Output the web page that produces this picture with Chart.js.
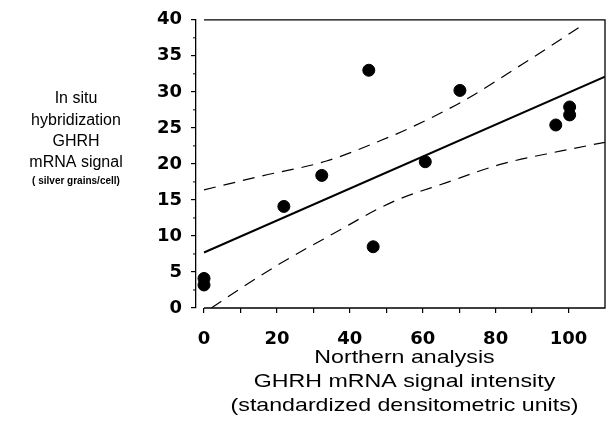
<!DOCTYPE html>
<html lang="en">
<head>
    <meta charset="UTF-8">
    <title>GHRH mRNA: in situ vs Northern</title>
    <script src="https://cdn.jsdelivr.net/npm/chart.js"></script>
    <style>
        html, body { margin: 0; padding: 0; background: #ffffff; }
        #wrap { width: 612px; height: 427px; }
    </style>
</head>
<body>
    <div id="wrap"><canvas id="corrChart" width="612" height="427"></canvas></div>

    <script>
        // Northern (x) vs in situ (y), one point per animal
        const northern = [0, 0, 21.9, 32.3, 45.2, 46.4, 60.7, 70.2, 96.5, 100.3, 100.3];
        const inSitu   = [4.1, 3.2, 14.1, 18.4, 33.0, 8.5, 20.3, 30.2, 25.4, 27.9, 26.8];

        // regression line
        const fitX = [0, 110];
        const fitY = [7.7, 32.1];

        // confidence bands
        const upperX = [0, 15.6, 33.6, 51.6, 55.7, 71, 87.2, 104];
        const upperY = [16.4, 18.3, 20.4, 23.9, 24.8, 28.7, 33.8, 39.3];
        const lowerX = [2, 10, 21, 35.4, 51.6, 66.5, 81.8, 98, 110];
        const lowerY = [0, 2.7, 6.2, 10.3, 14.7, 17.4, 20.0, 21.8, 23.0];

        const xTicks = [0, 10, 20, 30, 40, 50, 60, 70, 80, 90, 100];
        const yTitle = ['In situ', 'hybridization', 'GHRH', 'mRNA signal'];
        const yNote = '( silver grains/cell)';
        const xTitle = ['Northern analysis', 'GHRH mRNA signal intensity', '(standardized densitometric units)'];

        const FONT = '"Liberation Sans", Arial, Helvetica, sans-serif';
        const TICKFONT = '"DejaVu Sans", "Liberation Sans", Arial, sans-serif';

        function pairs(xs, ys) {
            return xs.map((x, i) => ({x: x, y: ys[i]}));
        }

        // frame, minor ticks and the two axis titles
        const framePlugin = {
            id: 'frame',
            afterDraw(chart) {
                const ctx = chart.ctx;
                const xs = chart.scales.x, ys = chart.scales.y;
                const a = chart.chartArea;
                const x0 = xs.getPixelForValue(0);
                ctx.save();
                ctx.strokeStyle = '#000';
                ctx.lineWidth = 1.3;
                ctx.beginPath();
                ctx.moveTo(x0, a.top);
                ctx.lineTo(a.right, a.top);
                ctx.lineTo(a.right, a.bottom);
                ctx.lineTo(x0, a.bottom);
                ctx.stroke();
                // minor ticks on y axis
                ctx.lineWidth = 1;
                ctx.beginPath();
                for (let v = 2.5; v < 40; v += 5) {
                    const py = ys.getPixelForValue(v);
                    ctx.moveTo(a.left - 3, py);
                    ctx.lineTo(a.left, py);
                }
                ctx.stroke();

                ctx.fillStyle = '#000';
                ctx.textAlign = 'center';
                ctx.textBaseline = 'middle';
                ctx.font = '16px ' + FONT;
                const rowsY = [98, 120, 141, 162];
                yTitle.forEach((t, i) => {
                    ctx.save();
                    ctx.translate(76, rowsY[i]);
                    ctx.scale(1, 1.08);
                    ctx.fillText(t, 0, 0);
                    ctx.restore();
                });
                ctx.font = 'bold 10px ' + FONT;
                ctx.fillText(yNote, 76, 181);

                // x title, a little wider than plain Arial
                ctx.font = '19px ' + FONT;
                const cx = (x0 + a.right) / 2;
                const rowsX = [358, 382, 406];
                xTitle.forEach((t, i) => {
                    ctx.save();
                    ctx.translate(cx, rowsX[i]);
                    ctx.scale(1.22, 1);
                    ctx.fillText(t, 0, 0);
                    ctx.restore();
                });
                ctx.restore();
            }
        };

        const ctx = document.getElementById('corrChart').getContext('2d');
        new Chart(ctx, {
            type: 'scatter',
            data: {
                datasets: [
                    {
                        label: 'animals',
                        data: pairs(northern, inSitu),
                        backgroundColor: '#000',
                        borderColor: '#000',
                        pointRadius: 6,
                        order: 0
                    },
                    {
                        label: 'fit',
                        data: pairs(fitX, fitY),
                        showLine: true,
                        borderColor: '#000',
                        borderWidth: 2,
                        pointRadius: 0,
                        order: 1
                    },
                    {
                        label: 'upper',
                        data: pairs(upperX, upperY),
                        showLine: true,
                        borderColor: '#000',
                        borderWidth: 1.2,
                        borderDash: [12, 8],
                        pointRadius: 0,
                        cubicInterpolationMode: 'monotone',
                        order: 2
                    },
                    {
                        label: 'lower',
                        data: pairs(lowerX, lowerY),
                        showLine: true,
                        borderColor: '#000',
                        borderWidth: 1.2,
                        borderDash: [12, 8],
                        pointRadius: 0,
                        cubicInterpolationMode: 'monotone',
                        order: 2
                    }
                ]
            },
            options: {
                responsive: false,
                animation: false,
                layout: { padding: { left: 150, right: 2, top: 18, bottom: 0 } },
                plugins: {
                    legend: { display: false },
                    tooltip: { enabled: false }
                },
                scales: {
                    x: {
                        type: 'linear',
                        min: -2.2,
                        max: 110,
                        afterBuildTicks: s => { s.ticks = xTicks.map(v => ({value: v})); },
                        afterFit: s => { s.height = 119; },
                        border: { display: false },
                        grid: { drawOnChartArea: false, tickLength: 5, color: '#000', lineWidth: 1.2 },
                        ticks: {
                            padding: 16,
                            maxRotation: 0,
                            minRotation: 0,
                            autoSkip: false,
                            color: '#000',
                            font: { family: TICKFONT, size: 18, weight: 'bold' },
                            callback: v => (v % 20 === 0 ? v : '')
                        }
                    },
                    y: {
                        min: 0,
                        max: 40,
                        afterFit: s => { s.width = 46; },
                        border: { display: true, color: '#000', width: 1.3 },
                        grid: { drawOnChartArea: false, tickLength: 5, color: '#000', lineWidth: 1.2 },
                        ticks: {
                            stepSize: 5,
                            padding: 9,
                            color: '#000',
                            font: { family: TICKFONT, size: 18, weight: 'bold' }
                        }
                    }
                }
            },
            plugins: [framePlugin]
        });
    </script>
</body>
</html>
